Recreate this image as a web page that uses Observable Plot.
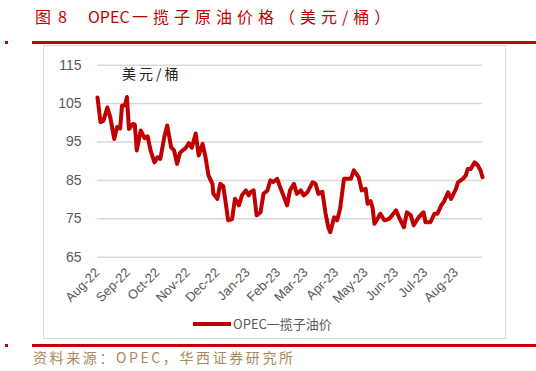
<!DOCTYPE html>
<html>
<head>
<meta charset="utf-8">
<script src="https://cdn.jsdelivr.net/npm/d3@7"></script>
<script src="https://cdn.jsdelivr.net/npm/@observablehq/plot@0.6"></script>
<style>
  html, body { margin: 0; padding: 0; background: #fff; }
  #wrap { position: relative; width: 536px; height: 371px; overflow: hidden; font-family: "Noto Sans CJK SC", sans-serif; }
  #wrap > * { position: absolute; }
  .title { left: 0; top: 4px; width: 536px; height: 26px; font-size: 16px; color: #C00000; white-space: nowrap; }
  .title span { position: absolute; top: 0; }
  .title .cjk { letter-spacing: 5px; }
  .rule { left: 32px; width: 504px; height: 3px; background: #C00000; }
  .sq { left: 5px; width: 3px; height: 3px; background: #C00000; }
  .box { left: 43px; top: 45px; width: 461px; height: 292px; border: 1.5px solid #D9D9D9; }
  .unit { left: 122px; top: 63px; font-size: 14px; color: #222; letter-spacing: 3px; white-space: nowrap; }
  .legend { left: 193px; top: 314px; font-size: 13px; color: #595959; white-space: nowrap; display: flex; align-items: center; }
  .legend i { display: inline-block; width: 38px; height: 4px; background: #C00000; margin-right: 2px; }
  .source { left: 33px; top: 347px; font-size: 14px; color: #A8895A; letter-spacing: 2.6px; white-space: nowrap; }
  #chart { left: 0; top: 0; }
</style>
</head>
<body>
<div id="wrap">
  <div class="box"></div>
  <div id="chart"></div>
  <div class="title"><span style="left:35px">图</span><span style="left:58px">8</span><span style="left:88px">OPEC</span><span class="cjk" style="left:132px">一揽子原油价格（美元/桶）</span></div>
  <div class="sq" style="top:41px"></div>
  <div class="rule" style="top:41px"></div>
  <div class="unit">美元/桶</div>
  <div class="legend"><i></i>OPEC一揽子油价</div>
  <div class="sq" style="top:344px"></div>
  <div class="rule" style="top:344px"></div>
  <div class="source">资料来源：OPEC，华西证券研究所</div>
</div>
<script>
const dates = [
  "2022-08-01","2022-08-04","2022-08-07","2022-08-11","2022-08-14","2022-08-18","2022-08-21","2022-08-24","2022-08-26","2022-08-29",
  "2022-08-31","2022-09-02","2022-09-06","2022-09-08","2022-09-10","2022-09-14","2022-09-18","2022-09-21","2022-09-24","2022-09-28",
  "2022-10-01","2022-10-04","2022-10-08","2022-10-11","2022-10-15","2022-10-18","2022-10-21","2022-10-24","2022-10-30","2022-11-02",
  "2022-11-05","2022-11-09","2022-11-12","2022-11-16","2022-11-19","2022-11-22","2022-11-26","2022-11-27","2022-12-01","2022-12-04",
  "2022-12-07","2022-12-09","2022-12-12","2022-12-16","2022-12-19","2022-12-23","2022-12-26","2022-12-30","2023-01-02","2023-01-04",
  "2023-01-07","2023-01-10","2023-01-14","2023-01-17","2023-01-21","2023-01-24","2023-01-27","2023-01-31","2023-02-03","2023-02-07",
  "2023-02-10","2023-02-13","2023-02-17","2023-02-20","2023-02-24","2023-02-27","2023-03-03","2023-03-08","2023-03-11","2023-03-14",
  "2023-03-18","2023-03-21","2023-03-24","2023-03-26","2023-03-30","2023-04-02","2023-04-05","2023-04-09","2023-04-12","2023-04-16",
  "2023-04-19","2023-04-24","2023-04-27","2023-05-01","2023-05-03","2023-05-06","2023-05-08","2023-05-10","2023-05-14","2023-05-16",
  "2023-05-20","2023-05-25","2023-05-28","2023-06-01","2023-06-04","2023-06-09","2023-06-12","2023-06-16","2023-06-19","2023-06-24",
  "2023-06-29","2023-07-01","2023-07-06","2023-07-10","2023-07-13","2023-07-17","2023-07-20","2023-07-24","2023-07-27","2023-08-01",
  "2023-08-03","2023-08-08","2023-08-11","2023-08-13","2023-08-16","2023-08-20","2023-08-23","2023-08-26","2023-08-28"
];
const prices = [
  106.6,100.2,100.5,104.0,101.5,95.8,98.9,98.5,104.5,104.5,
  106.7,98.4,99.7,99.5,92.8,98.0,96.0,96.5,92.8,89.7,
  91.0,90.6,96.3,99.3,93.6,92.8,89.3,92.2,93.5,94.7,
  93.5,97.2,91.5,94.5,91.0,86.3,84.1,81.5,80.2,84.1,
  83.5,80.2,74.6,74.9,80.2,78.5,81.1,82.4,81.1,82.0,
  82.4,75.9,76.7,81.5,82.4,85.0,84.6,85.4,83.2,80.6,
  78.5,82.4,84.1,81.5,82.4,81.1,82.0,84.5,84.1,81.5,
  82.0,76.7,72.8,71.5,75.4,74.6,77.6,85.4,85.4,85.4,
  87.6,85.8,82.4,82.8,78.9,79.6,78.0,73.7,75.4,76.3,
  74.6,75.0,75.9,77.2,75.4,72.8,76.7,75.9,73.3,75.4,
  76.7,74.1,74.1,76.3,76.3,78.5,79.6,81.9,80.2,82.8,
  84.5,85.4,86.3,88.0,88.0,89.7,89.0,87.6,85.8
];
const yTicks = [65, 75, 85, 95, 105, 115];
const monthTicks = ["2022-08-01","2022-09-01","2022-10-01","2022-11-01","2022-12-01","2023-01-01","2023-02-01","2023-03-01","2023-04-01","2023-05-01","2023-06-01","2023-07-01","2023-08-01"];

const parse = d3.utcParse("%Y-%m-%d");
const data = dates.map((d, i) => ({date: parse(d), price: prices[i]}));
const fmt = d3.utcFormat("%b-%y");

const chart = Plot.plot({
  width: 536,
  height: 371,
  marginLeft: 97,
  marginRight: 54,
  marginTop: 64.7,
  marginBottom: 114.3,
  style: {fontFamily: "'Liberation Sans', Arial, sans-serif", background: "transparent", overflow: "visible"},
  x: {type: "utc", domain: [parse("2022-08-01"), parse("2023-08-28")]},
  y: {domain: [65, 115]},
  marks: [
    Plot.gridY(yTicks, {stroke: "#D9D9D9", strokeOpacity: 1, strokeWidth: 1.5}),
    Plot.axisY(yTicks, {tickSize: 0, tickPadding: 16, fontSize: 14, fill: "#595959", label: null}),
    Plot.axisX(monthTicks.map(parse), {tickSize: 0, tickPadding: 13, tickRotate: -45, tickFormat: fmt, fontSize: 13, fill: "#595959", label: null}),
    Plot.line(data, {x: "date", y: "price", stroke: "#C00000", strokeWidth: 4, strokeLinejoin: "round", strokeLinecap: "round"})
  ]
});
document.getElementById("chart").appendChild(chart);
</script>
</body>
</html>
